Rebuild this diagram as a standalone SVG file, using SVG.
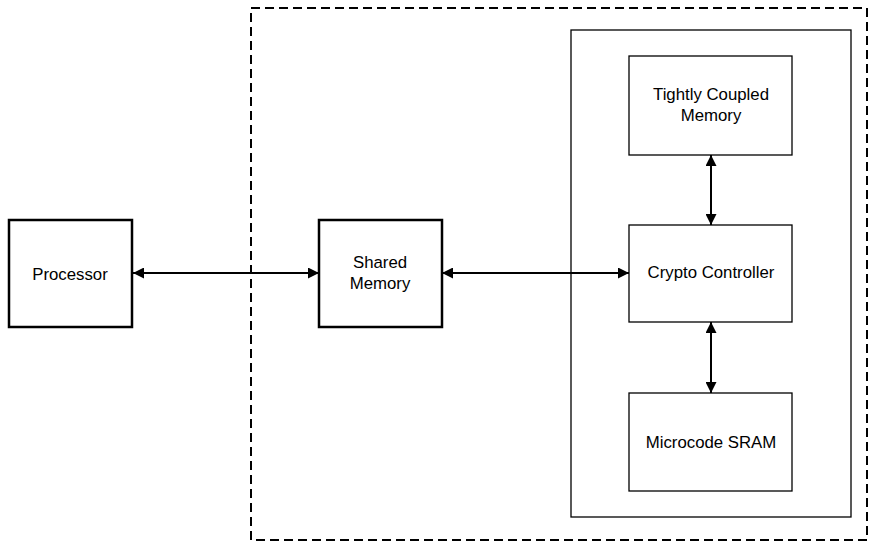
<svg xmlns="http://www.w3.org/2000/svg" width="874" height="547" viewBox="0 0 874 547">
<style>
text{font-family:"Liberation Sans",Arial,sans-serif;font-size:16.8px;fill:#000;text-anchor:middle;dominant-baseline:central}
.thick{fill:#fff;stroke:#000;stroke-width:2.5}
.thin{fill:#fff;stroke:#000;stroke-width:1.3}
.conn{stroke:#000;stroke-width:2;fill:none;marker-start:url(#ah);marker-end:url(#ah)}
</style>
<defs>
<marker id="ah" viewBox="0 0 10 10" refX="10" refY="5" markerWidth="6" markerHeight="5.5" orient="auto-start-reverse" markerUnits="strokeWidth">
<path d="M0,0 L10,5 L0,10 z" fill="#000"/>
</marker>
</defs>
<rect width="874" height="547" fill="#fff"/>
<g id="boundary">
<rect x="251" y="8" width="616" height="532" fill="none" stroke="#000" stroke-width="2" stroke-dasharray="9 5"/>
</g>
<g id="crypto-subsystem">
<rect x="571" y="30" width="280" height="487" class="thin"/>
</g>
<g id="connectors">
<line x1="133" y1="273" x2="319" y2="273" class="conn"/>
<line x1="442" y1="273" x2="629" y2="273" class="conn"/>
<line x1="711" y1="155" x2="711" y2="225" class="conn"/>
<line x1="711" y1="322" x2="711" y2="393" class="conn"/>
</g>
<g id="processor">
<rect x="9" y="220" width="123" height="107" class="thick"/>
<text x="70" y="274">Processor</text>
</g>
<g id="shared-memory">
<rect x="319" y="220" width="123" height="107" class="thick"/>
<text x="380" y="262">Shared</text>
<text x="380" y="283">Memory</text>
</g>
<g id="tcm">
<rect x="629" y="56" width="163" height="99" class="thin"/>
<text x="711" y="94">Tightly Coupled</text>
<text x="711" y="115">Memory</text>
</g>
<g id="crypto-controller">
<rect x="629" y="225" width="163" height="97" class="thin"/>
<text x="711" y="272">Crypto Controller</text>
</g>
<g id="microcode-sram">
<rect x="629" y="393" width="163" height="98" class="thin"/>
<text x="711" y="442">Microcode SRAM</text>
</g>
</svg>
